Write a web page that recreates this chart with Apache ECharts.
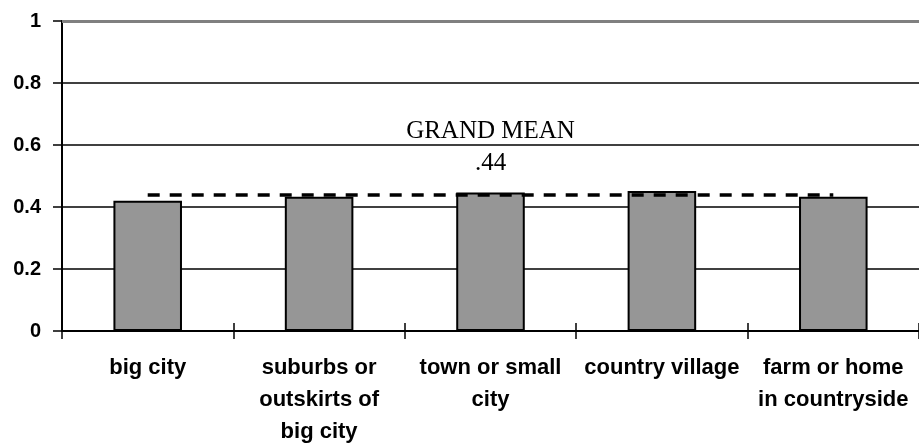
<!DOCTYPE html>
<html>
<head>
<meta charset="utf-8">
<script src="https://cdn.jsdelivr.net/npm/echarts@6/dist/echarts.min.js"></script>
<style>html,body{margin:0;padding:0;background:#fff;}#c{width:919px;height:448px;}</style>
</head>
<body>
<div id="c"></div>
<script>
var categories = ['big city', 'suburbs or\noutskirts of\nbig city', 'town or small\ncity', 'country village', 'farm or home\nin countryside'];
var values = [0.42, 0.433, 0.447, 0.452, 0.433];
var grandMean = 0.44;
var grandMeanLabel = 'GRAND MEAN';
var yMax = 1;

var chart = echarts.init(document.getElementById('c'), null, {renderer: 'canvas'});
var sans = '"Liberation Sans", Arial, sans-serif';
var serif = '"Liberation Serif", "Times New Roman", serif';

chart.setOption({
  animation: false,
  backgroundColor: '#fff',
  grid: {left: 62, top: 21, width: 860, height: 310, containLabel: false},
  xAxis: [
    {
      type: 'category', data: categories, position: 'bottom',
      axisLine: {lineStyle: {color: '#000', width: 2}},
      axisTick: {show: true, inside: false, length: 8, lineStyle: {color: '#000', width: 1.5}},
      axisLabel: {color: '#000', fontFamily: sans, fontWeight: 'bold', fontSize: 22, lineHeight: 32, margin: 21, interval: 0},
      splitLine: {show: false}
    },
    {
      type: 'category', data: categories, position: 'bottom',
      axisLine: {show: false},
      axisTick: {show: true, inside: true, length: 8, lineStyle: {color: '#000', width: 1.5}},
      axisLabel: {show: false}, splitLine: {show: false}
    }
  ],
  yAxis: [
    {
      type: 'value', min: 0, max: yMax, interval: 0.2,
      axisLine: {show: true, lineStyle: {color: '#000', width: 2}},
      axisTick: {show: true, inside: false, length: 9, lineStyle: {color: '#000', width: 1.5}},
      axisLabel: {color: '#000', fontFamily: sans, fontWeight: 'bold', fontSize: 20, margin: 21},
      splitLine: {show: true, lineStyle: {color: '#000', width: 1.5}}
    }
  ],
  series: [
    {
      type: 'bar', data: values, barWidth: '40%', xAxisIndex: 0, yAxisIndex: 0,
      itemStyle: {color: '#969696', borderColor: '#000', borderWidth: 2},
      z: 3,
      markLine: {
        silent: true, symbol: 'none',
        lineStyle: {type: [12, 10], color: '#000', width: 3.5},
        label: {
          show: true, position: 'middle', distance: 15,
          formatter: grandMeanLabel + '\n' + String(grandMean).replace(/^0/, ''),
          color: '#000', fontFamily: serif, fontSize: 25, lineHeight: 32
        },
        data: [
          [{coord: [categories[0], grandMean]}, {coord: [categories[4], grandMean]}],
          {yAxis: yMax, lineStyle: {type: 'solid', color: '#808080', width: 3}, label: {show: false}}
        ]
      }
    }
  ]
});
</script>
</body>
</html>
